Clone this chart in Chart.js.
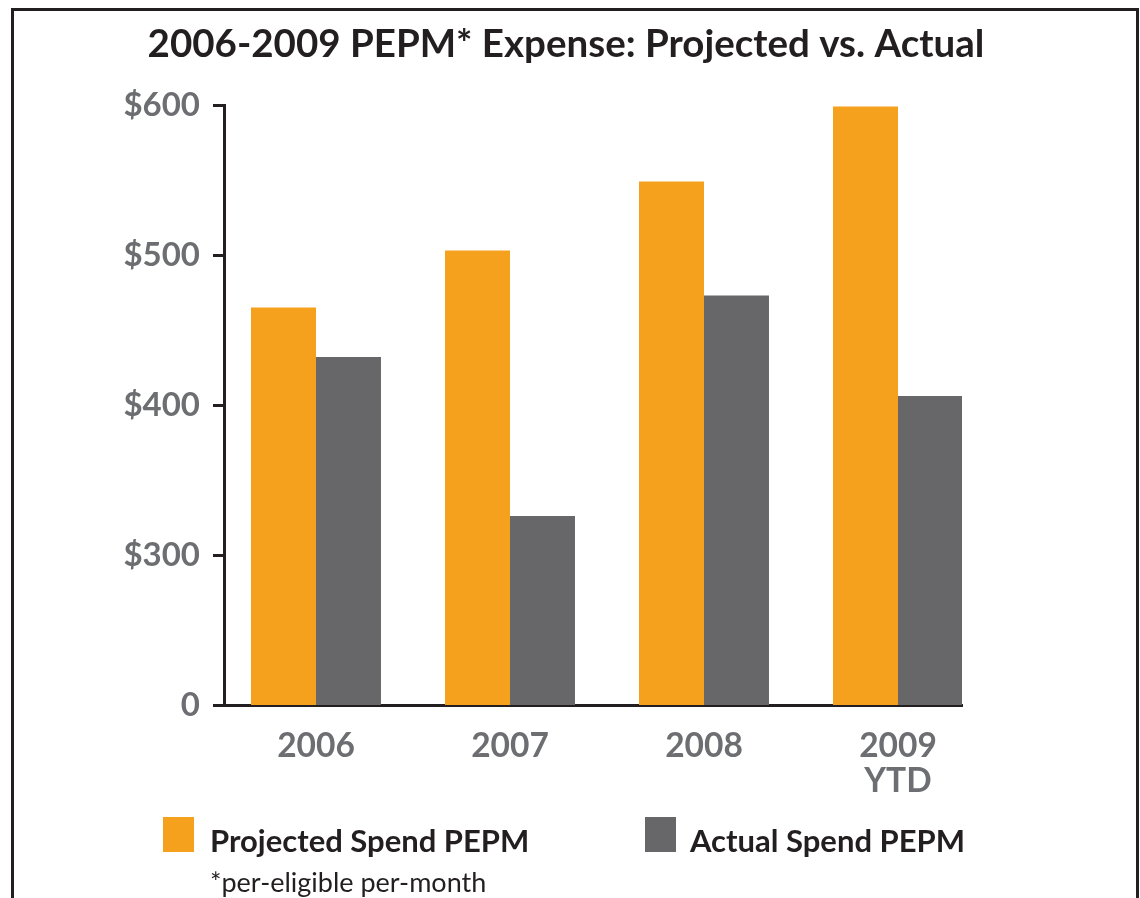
<!DOCTYPE html>
<html><head><meta charset="utf-8">
<script src="https://cdn.jsdelivr.net/npm/chart.js@4.4.1/dist/chart.umd.min.js"></script>
<style>
html,body{margin:0;padding:0;width:1140px;height:898px;overflow:hidden;background:#fff;}
#frame{position:absolute;left:11px;top:8px;width:1122px;height:1000px;border:3px solid #231f20;}
#c{position:absolute;left:0;top:0;}
.legtxt{position:absolute;font-family:Lato,sans-serif;font-weight:bold;font-size:31px;line-height:1;color:#231f20;white-space:nowrap;}
.sw{position:absolute;width:31px;height:35px;}
#note{position:absolute;left:210px;top:868px;font-family:Lato,sans-serif;font-size:27px;line-height:1;color:#231f20;white-space:nowrap;}
</style></head><body>
<div id="frame"></div>
<canvas id="c" width="1140" height="898"></canvas>
<div id="legend"></div>
<div id="note">*per-eligible per-month</div>
<script>
// ---- data ----
const categories = [['2006'], ['2007'], ['2008'], ['2009', 'YTD']];
const projected = [465, 503, 549, 599];
const actual = [432, 326, 473, 406];
const yTicks = [200, 300, 400, 500, 600];
const yTickLabels = ['0', '$300', '$400', '$500', '$600'];
const seriesNames = ['Projected Spend PEPM', 'Actual Spend PEPM'];
const seriesColors = ['#F5A11D', '#676769'];
const titleText = '2006-2009 PEPM* Expense: Projected vs. Actual';

// ---- legend (HTML) ----
const legend = document.getElementById('legend');
const swLeft = [163, 645], txtLeft = [210, 690];
seriesNames.forEach((n, i) => {
  const s = document.createElement('div');
  s.className = 'sw'; s.style.left = swLeft[i] + 'px'; s.style.top = '817px';
  s.style.background = seriesColors[i];
  legend.appendChild(s);
  const t = document.createElement('div');
  t.className = 'legtxt'; t.style.left = txtLeft[i] + 'px'; t.style.top = '825px';
  t.textContent = n;
  legend.appendChild(t);
});

const toPoints = arr => arr.map((v, i) => ({x: i, y: v}));
const AX = '#231f20', TICK = '#6D6E71';

new Chart(document.getElementById('c'), {
  type: 'bar',
  data: {
    datasets: [
      {label: seriesNames[0], data: toPoints(projected), backgroundColor: seriesColors[0]},
      {label: seriesNames[1], data: toPoints(actual), backgroundColor: seriesColors[1]}
    ]
  },
  options: {
    responsive: false,
    animation: false,
    devicePixelRatio: 1,
    categoryPercentage: 0.67,
    barPercentage: 1.0,
    layout: {padding: {left: 124, right: 132, top: 0, bottom: 100}},
    plugins: {
      legend: {display: false},
      tooltip: {enabled: false},
      title: {
        display: true, text: titleText, color: AX,
        font: {family: 'Lato', weight: 'bold', size: 38.5, lineHeight: 1.2},
        padding: {top: 21, bottom: 37.8}
      }
    },
    scales: {
      x: {
        type: 'linear', offset: false, min: -0.4742, max: 3.3299,
        grid: {display: false, drawTicks: false},
        border: {display: true, color: AX, width: 3},
        afterBuildTicks: s => { s.ticks = categories.map((c, i) => ({value: i})); },
        afterFit: s => { s.height = 93; },
        ticks: {
          padding: 24, color: TICK, maxRotation: 0, autoSkip: false,
          font: {family: 'Lato', weight: 'bold', size: 33.5, lineHeight: 1.04},
          callback: (v) => categories[v]
        }
      },
      y: {
        min: 200, max: 600,
        grid: {display: true, drawOnChartArea: false, drawTicks: true, tickLength: 11, lineWidth: 3, color: AX},
        border: {display: true, color: AX, width: 3},
        afterBuildTicks: s => { s.ticks = yTicks.map(v => ({value: v})); },
        afterFit: s => { s.width = 100; },
        ticks: {
          padding: 13, color: TICK,
          font: {family: 'Lato', weight: 'bold', size: 33},
          callback: (v) => yTickLabels[yTicks.indexOf(v)]
        }
      },
      yRightSpace: {
        position: 'right', min: 200, max: 600,
        grid: {display: false, drawTicks: false},
        border: {display: false},
        ticks: {display: false},
        afterFit: s => { s.width = 46; }
      }
    }
  }
});
</script>
</body></html>
